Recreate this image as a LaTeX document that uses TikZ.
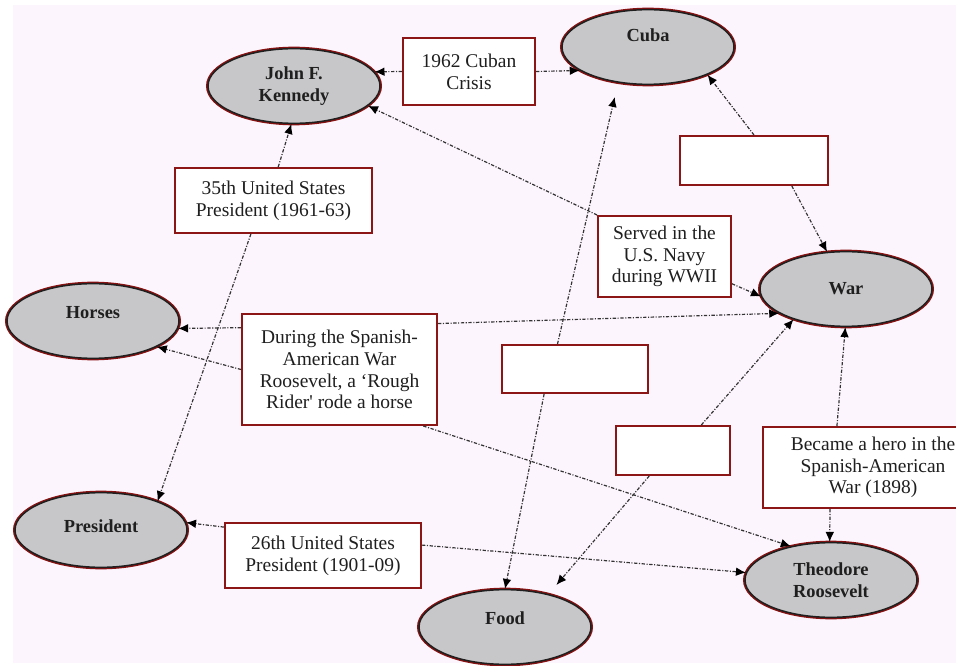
\documentclass[tikz,border=0pt]{standalone}
\usepackage{fontspec}
\setmainfont{Liberation Serif}
\usetikzlibrary{arrows.meta,shapes.geometric}

\begin{document}
\begin{tikzpicture}[x=0.75pt,y=-0.75pt]

	%DEFINICIONES
	\tikzstyle{every node}=[font=\fontsize{14.6}{16.3}\selectfont, text=black!88]
	\tikzstyle{concepto} = [ellipse, draw=black!88, line width=1.1pt, fill={rgb,255:red,199; green,199; blue,201}, inner sep=0pt, minimum width=129pt, minimum height=56pt, align=center, font=\fontsize{13.8}{16.3}\selectfont\bfseries, preaction={draw={rgb,255:red,135; green,18; blue,18}, line width=3pt}]
	\tikzstyle{enlace} = [draw={rgb,255:red,140; green,22; blue,22}, rectangle, line width=1.5pt, fill=white, align=center, inner sep=0pt]
	\tikzstyle{flecha} = [-{Latex[length=7.5pt,width=6.5pt,black]}, draw=black!80, line width=0.9pt, dash pattern=on 2.5pt off 1.2pt on 0.8pt off 1.2pt]

	%FONDO
	\useasboundingbox (0,0) rectangle (956,666);
	\clip (0,0) rectangle (956,666);
	\fill[white] (0,0) rectangle (956,666);
	\fill[fill={rgb,255:red,253; green,245; blue,253}] (13,5) rectangle (956,663);

	%CONCEPTOS
	\draw(294,86) node[concepto](jfk){John F.\\Kennedy};
	\draw(648,47) node[concepto, text depth=18pt](cuba){Cuba};
	\draw(846,289) node[concepto](war){War};
	\draw(93,321) node[concepto, text depth=13.5pt](horses){Horses};
	\draw(101,530) node[concepto, text depth=6pt](president){President};
	\draw(831,580) node[concepto](tr){Theodore\\Roosevelt};
	\draw(505,627) node[concepto, text depth=13.5pt](food){Food};

	%ENLACES
	\draw(469,71.5) node[enlace, minimum width=99pt, minimum height=50.25pt](crisis){1962 Cuban\\Crisis};
	\draw(273.5,200.5) node[enlace, minimum width=147.75pt, minimum height=48.75pt](pres35){35th United States\\President (1961-63)};
	\draw(664.5,256.5) node[enlace, minimum width=99.75pt, minimum height=60.75pt](navy){Served in the\\U.S. Navy\\during WWII};
	\draw(339.5,369.5) node[enlace, minimum width=146.25pt, minimum height=83.25pt](rider){During the Spanish-\\American War\\Roosevelt, a ‘Rough\\Rider\textquotesingle{} rode a horse};
	\draw(754,160.5) node[enlace, minimum width=111pt, minimum height=36.75pt](vacio1){};
	\draw(575,369) node[enlace, minimum width=109.5pt, minimum height=36pt](vacio2){};
	\draw(673,450.5) node[enlace, minimum width=85.5pt, minimum height=36.75pt](vacio3){};
	\draw(873,467.5) node[enlace, minimum width=165pt, minimum height=60.75pt](hero){Became a hero in the\\Spanish-American\\War (1898)};
	\draw(323,555.5) node[enlace, minimum width=147pt, minimum height=48.75pt](pres26){26th United States\\President (1901-09)};

	%FLECHAS
	\draw [flecha] (crisis.west) -- (jfk.10);
	\draw [flecha] (crisis.east) -- (cuba.199);
	\draw [flecha] (pres35.82) -- (jfk.-94);
	\draw [flecha] (pres35.236) -- (president.27);
	\draw [flecha] (navy.north west) -- (jfk.-15);
	\draw [flecha] (navy.-22) -- (war.185);
	\draw [flecha] (rider.157) -- (horses.-5);
	\draw [flecha] (rider.west) -- (horses.-22);
	\draw [flecha] (rider.25) -- (war.200);
	\draw [flecha] (rider.-34) -- (tr.140);
	\draw [flecha] (vacio1.north) -- (cuba.-25);
	\draw [flecha] (vacio1.-34) -- (war.117);
	\draw [flecha, shorten >=11pt] (vacio2.125) -- (cuba.230);
	\draw [flecha] (vacio2.219) -- (food.90);
	\draw [flecha] (vacio3.42) -- (war.210);
	\draw [flecha, shorten >=9pt] (vacio3.227) -- (food.37);
	\draw [flecha] (hero.131) -- (war.-91);
	\draw [flecha] (hero.224) -- (tr.92);
	\draw [flecha] (pres26.164) -- (president.5);
	\draw [flecha] (pres26.6) -- (tr.175);
\end{tikzpicture}
\end{document}
